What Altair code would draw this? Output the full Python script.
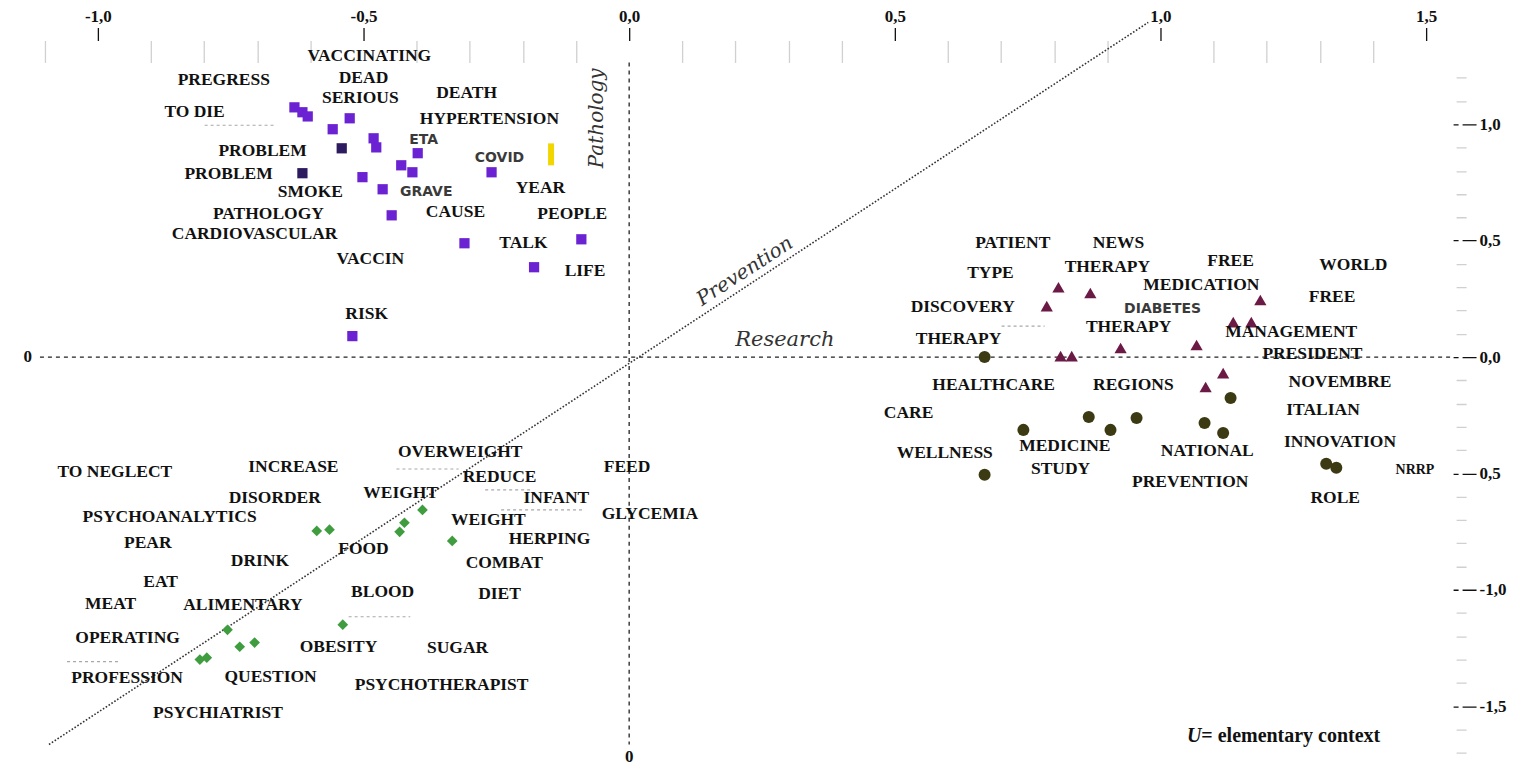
import altair as alt
import pandas as pd

# ---------------- axis extents and ticks (data units) ----------------
X_DOMAIN = [-1.1165, 1.5508]
Y_DOMAIN = [-1.781, 1.266]

X_TICKS = [-1.1, -1.0, -0.9, -0.8, -0.7, -0.6, -0.5, -0.4, -0.3, -0.2, -0.1, 0.0,
           0.1, 0.2, 0.3, 0.4, 0.5, 0.6, 0.7, 0.8, 0.9, 1.0, 1.1, 1.2, 1.3, 1.4, 1.5]
X_MAJOR = [-1.0, -0.5, 0.0, 0.5, 1.0, 1.5]
X_LABELS = ["-1,0", "-0,5", "0,0", "0,5", "1,0", "1,5"]

Y_TICKS = [1.2, 1.1, 1.0, 0.9, 0.8, 0.7, 0.6, 0.5, 0.4, 0.3, 0.2, 0.1, 0.0,
           -0.1, -0.2, -0.3, -0.4, -0.5, -0.6, -0.7, -0.8, -0.9, -1.0, -1.1,
           -1.2, -1.3, -1.4, -1.5, -1.6, -1.7]
Y_MAJOR = [1.0, 0.5, 0.0, -0.5, -1.0, -1.5]
Y_LABELS = ["1,0", "0,5", "0,0", "0,5", "-1,0", "-1,5"]

# ---------------- cluster markers ----------------
# Pathology (purple squares)
PURPLE_X = [-0.630, -0.615, -0.605, -0.526, -0.558, -0.481, -0.476, -0.541, -0.398, -0.429,
            -0.408, -0.615, -0.502, -0.464, -0.447, -0.310, -0.259, -0.090, -0.179, -0.521]
PURPLE_Y = [1.073, 1.052, 1.034, 1.026, 0.979, 0.940, 0.901, 0.897, 0.876, 0.824,
            0.794, 0.790, 0.773, 0.721, 0.609, 0.489, 0.794, 0.506, 0.386, 0.090]
PURPLE_C = ["#6a22d2", "#6a22d2", "#6a22d2", "#6a22d2", "#6a22d2", "#6a22d2", "#6a22d2",
            "#2e1a5e", "#6a22d2", "#6a22d2", "#6a22d2", "#2e1a5e", "#6a22d2", "#6a22d2",
            "#6a22d2", "#6a22d2", "#6a22d2", "#6a22d2", "#6a22d2", "#6a22d2"]
YELLOW_X = [-0.147]
YELLOW_Y = [0.871]

# Research (maroon triangles)
TRI_X = [0.808, 0.868, 0.786, 0.812, 0.833, 0.925, 1.068, 1.118, 1.085, 1.137, 1.171, 1.188]
TRI_Y = [0.300, 0.275, 0.219, 0.004, 0.004, 0.039, 0.052, -0.069, -0.129, 0.150, 0.150, 0.245]

# Research (dark olive circles)
CIRC_X = [0.669, 0.865, 0.955, 0.906, 0.742, 1.083, 1.118, 1.132, 0.669, 1.312, 1.331]
CIRC_Y = [0.000, -0.258, -0.262, -0.313, -0.313, -0.283, -0.326, -0.176, -0.506, -0.459, -0.476]

# Prevention (green diamonds)
DIAM_X = [-0.588, -0.564, -0.389, -0.423, -0.432, -0.333, -0.756, -0.733, -0.705, -0.539, -0.808, -0.795]
DIAM_Y = [-0.747, -0.742, -0.657, -0.712, -0.751, -0.790, -1.172, -1.245, -1.227, -1.150, -1.300, -1.292]

# ---------------- word labels (text, x, y) ----------------
PURPLE_WORDS = [
    ("VACCINATING", -0.489, 1.292), ("DEAD", -0.500, 1.197), ("PREGRESS", -0.763, 1.189),
    ("SERIOUS", -0.506, 1.112), ("DEATH", -0.306, 1.133), ("TO DIE", -0.818, 1.052),
    ("HYPERTENSION", -0.263, 1.021), ("PROBLEM", -0.690, 0.884), ("PROBLEM", -0.754, 0.785),
    ("SMOKE", -0.600, 0.708), ("YEAR", -0.167, 0.725), ("PATHOLOGY", -0.679, 0.614),
    ("CAUSE", -0.327, 0.622), ("PEOPLE", -0.107, 0.614), ("CARDIOVASCULAR", -0.705, 0.528),
    ("TALK", -0.199, 0.489), ("VACCIN", -0.487, 0.421), ("LIFE", -0.083, 0.369),
    ("RISK", -0.494, 0.185),
]
RIGHT_WORDS = [
    ("PATIENT", 0.722, 0.489), ("NEWS", 0.921, 0.489), ("TYPE", 0.680, 0.361),
    ("THERAPY", 0.900, 0.386), ("FREE", 1.132, 0.412), ("WORLD", 1.363, 0.395),
    ("MEDICATION", 1.077, 0.309), ("FREE", 1.323, 0.258), ("DISCOVERY", 0.628, 0.215),
    ("THERAPY", 0.940, 0.129), ("MANAGEMENT", 1.246, 0.107), ("THERAPY", 0.620, 0.077),
    ("PRESIDENT", 1.286, 0.013), ("HEALTHCARE", 0.686, -0.120), ("REGIONS", 0.949, -0.120),
    ("NOVEMBRE", 1.338, -0.107), ("CARE", 0.526, -0.240), ("ITALIAN", 1.306, -0.227),
    ("INNOVATION", 1.338, -0.365), ("WELLNESS", 0.594, -0.412), ("MEDICINE", 0.820, -0.382),
    ("NATIONAL", 1.088, -0.403), ("STUDY", 0.812, -0.481), ("PREVENTION", 1.056, -0.536),
    ("ROLE", 1.329, -0.605),
]
GREEN_WORDS = [
    ("OVERWEIGHT", -0.318, -0.408), ("TO NEGLECT", -0.968, -0.494), ("INCREASE", -0.632, -0.472),
    ("FEED", -0.004, -0.472), ("REDUCE", -0.244, -0.515), ("DISORDER", -0.667, -0.605),
    ("WEIGHT", -0.430, -0.584), ("INFANT", -0.137, -0.605), ("PSYCHOANALYTICS", -0.865, -0.687),
    ("WEIGHT", -0.265, -0.700), ("GLYCEMIA", 0.039, -0.674), ("HERPING", -0.150, -0.781),
    ("PEAR", -0.906, -0.798), ("FOOD", -0.500, -0.824), ("DRINK", -0.695, -0.876),
    ("COMBAT", -0.235, -0.884), ("EAT", -0.882, -0.966), ("BLOOD", -0.464, -1.009),
    ("DIET", -0.244, -1.017), ("MEAT", -0.976, -1.060), ("ALIMENTARY", -0.727, -1.064),
    ("OPERATING", -0.944, -1.206), ("OBESITY", -0.547, -1.245), ("SUGAR", -0.323, -1.249),
    ("PROFESSION", -0.945, -1.378), ("QUESTION", -0.675, -1.373),
    ("PSYCHOTHERAPIST", -0.353, -1.408), ("PSYCHIATRIST", -0.774, -1.528),
]
SANS_WORDS = [("ETA", -0.387, 0.931), ("COVID", -0.244, 0.854), ("GRAVE", -0.382, 0.708),
              ("DIABETES", 1.004, 0.206)]
SMALL_WORDS = [("NRRP", 1.479, -0.485)]
ZERO_LABELS = [("0", -1.132, 0.0), ("0", 0.0, -1.717)]

# dimension names (text, x, y)
DIM_PATHOLOGY = [("Pathology", -0.060, 1.026)]
DIM_PREVENTION = [("Prevention", 0.218, 0.369)]
DIM_RESEARCH = [("Research", 0.293, 0.073)]
NOTE_U = [("U", 1.050, -1.627)]
NOTE_REST = [("= elementary context", 1.077, -1.627)]

# reference lines (x, x2, y, y2)
AXIS_LINES = {"x": [-1.109, 0.0], "x2": [1.551, 0.0], "y": [0.0, 1.266], "y2": [0.0, -1.665]}
DIAGONAL = {"x": [-1.092], "x2": [0.977], "y": [-1.665], "y2": [1.438]}
# faint grey leader dashes left over in the figure (x, x2, y)
LEADERS = {
    "x": [-0.799, -1.058, -0.438, -0.271, -0.241, -0.528, 0.701],
    "x2": [-0.667, -0.960, -0.321, -0.184, -0.088, -0.412, 0.782],
    "y": [0.996, -1.309, -0.481, -0.571, -0.657, -1.116, 0.133],
}

# ---------------- helpers ----------------
def is_major(vals):
    return " || ".join(f"abs(datum.value - ({v})) < 0.001" for v in vals)


def label_expr(vals, labels):
    expr = "''"
    for v, lab in zip(reversed(vals), reversed(labels)):
        expr = f"abs(datum.value - ({v})) < 0.001 ? '{lab}' : ({expr})"
    return expr


xt = is_major(X_MAJOR)
yt = is_major(Y_MAJOR)

x_axis = alt.Axis(
    orient="top", values=X_TICKS, labelExpr=label_expr(X_MAJOR, X_LABELS),
    domain=False, grid=False, title=None, tickSize=35, tickWidth=1.3,
    tickColor={"condition": {"test": xt, "value": "#111111"}, "value": "#d0d0d0"},
    tickDash={"condition": {"test": xt, "value": [0, 22, 13, 300]}, "value": [22, 300]},
    labelFont="Liberation Serif", labelFontSize=17, labelFontWeight="bold",
    labelColor="#111111", labelPadding=2, labelOverlap=False, labelFlush=False, labelAngle=0,
)
y_axis = alt.Axis(
    orient="right", values=Y_TICKS, labelExpr=label_expr(Y_MAJOR, Y_LABELS),
    domain=False, grid=False, title=None, tickSize=23, tickWidth=1.3,
    tickColor={"condition": {"test": yt, "value": "#111111"}, "value": "#d0d0d0"},
    tickDash={"condition": {"test": yt, "value": [5, 4, 14, 300]}, "value": [0, 3, 10, 300]},
    labelFont="Liberation Serif", labelFontSize=17, labelFontWeight="bold",
    labelColor="#111111", labelPadding=3, labelOverlap=False, labelFlush=False, labelAlign="left",
)

xs = alt.Scale(domain=X_DOMAIN, nice=False, zero=False)
ys = alt.Scale(domain=Y_DOMAIN, nice=False, zero=False)


def xy():
    return dict(x=alt.X("x:Q", scale=xs, axis=x_axis), y=alt.Y("y:Q", scale=ys, axis=y_axis))


def words_df(rows):
    return pd.DataFrame(rows, columns=["t", "x", "y"])


# ---------------- layers ----------------
leaders = alt.Chart(pd.DataFrame(LEADERS)).mark_rule(
    color="#a8a8a8", strokeDash=[3, 3], strokeWidth=1.2
).encode(**xy(), x2="x2:Q")

axis_lines = alt.Chart(pd.DataFrame(AXIS_LINES)).mark_rule(
    color="#222222", strokeDash=[4, 4], strokeWidth=1.3
).encode(**xy(), x2="x2:Q", y2="y2:Q")

diagonal = alt.Chart(pd.DataFrame(DIAGONAL)).mark_rule(
    color="#333333", strokeDash=[1.6, 1.8], strokeWidth=1.6
).encode(**xy(), x2="x2:Q", y2="y2:Q")

squares = alt.Chart(pd.DataFrame({"x": PURPLE_X, "y": PURPLE_Y, "c": PURPLE_C})).mark_square(
    size=105, opacity=1
).encode(**xy(), color=alt.Color("c:N", scale=None))

yellow = alt.Chart(pd.DataFrame({"x": YELLOW_X, "y": YELLOW_Y})).mark_tick(
    orient="vertical", size=22, thickness=6, color="#f2d600", opacity=1
).encode(**xy())

triangles = alt.Chart(pd.DataFrame({"x": TRI_X, "y": TRI_Y})).mark_point(
    shape="triangle-up", filled=True, size=150, color="#6b1a45", opacity=1
).encode(**xy())

circles = alt.Chart(pd.DataFrame({"x": CIRC_X, "y": CIRC_Y})).mark_circle(
    size=145, color="#3b3a12", opacity=1
).encode(**xy())

diamonds = alt.Chart(pd.DataFrame({"x": DIAM_X, "y": DIAM_Y})).mark_point(
    shape="diamond", filled=True, size=115, color="#3f9d3f", opacity=1
).encode(**xy())

serif = dict(font="Liberation Serif", fontSize=17.5, fontWeight="bold", color="#111111",
             align="center", baseline="middle")

txt_purple = alt.Chart(words_df(PURPLE_WORDS)).mark_text(**serif).encode(**xy(), text="t:N")
txt_right = alt.Chart(words_df(RIGHT_WORDS)).mark_text(**serif).encode(**xy(), text="t:N")
txt_green = alt.Chart(words_df(GREEN_WORDS)).mark_text(**serif).encode(**xy(), text="t:N")
txt_sans = alt.Chart(words_df(SANS_WORDS)).mark_text(
    font="DejaVu Sans", fontSize=14, fontWeight="bold", color="#3a3a3a",
    align="center", baseline="middle"
).encode(**xy(), text="t:N")
txt_small = alt.Chart(words_df(SMALL_WORDS)).mark_text(
    font="Liberation Serif", fontSize=14, fontWeight="bold", color="#111111",
    align="center", baseline="middle"
).encode(**xy(), text="t:N")
txt_zero = alt.Chart(words_df(ZERO_LABELS)).mark_text(
    font="Liberation Serif", fontSize=17, fontWeight="bold", color="#111111",
    align="center", baseline="middle"
).encode(**xy(), text="t:N")

dim_style = dict(font="DejaVu Serif", fontStyle="italic", fontSize=20, color="#333333",
                 align="center", baseline="middle")
dim_path = alt.Chart(words_df(DIM_PATHOLOGY)).mark_text(angle=270, **dim_style).encode(**xy(), text="t:N")
dim_prev = alt.Chart(words_df(DIM_PREVENTION)).mark_text(angle=327, **dim_style).encode(**xy(), text="t:N")
dim_res = alt.Chart(words_df(DIM_RESEARCH)).mark_text(
    font="DejaVu Serif", fontStyle="italic", fontSize=21, color="#333333",
    align="center", baseline="middle"
).encode(**xy(), text="t:N")

note_u = alt.Chart(words_df(NOTE_U)).mark_text(
    font="Liberation Serif", fontStyle="italic", fontWeight="bold", fontSize=20,
    color="#111111", align="left", baseline="middle"
).encode(**xy(), text="t:N")
note_rest = alt.Chart(words_df(NOTE_REST)).mark_text(
    font="Liberation Serif", fontWeight="bold", fontSize=20,
    color="#111111", align="left", baseline="middle"
).encode(**xy(), text="t:N")

chart = alt.layer(
    leaders, axis_lines, diagonal, squares, yellow, triangles, circles, diamonds,
    txt_purple, txt_right, txt_green, txt_sans, txt_small, txt_zero,
    dim_path, dim_prev, dim_res, note_u, note_rest,
).properties(
    width=1419, height=710,
    autosize=alt.AutoSizeParams(type="none"),
    padding={"left": 28, "top": 54, "right": 75, "bottom": 4},
    background="white",
).configure_view(stroke="transparent")

chart.save("out.html", embed_options={"renderer": "svg", "actions": False})
